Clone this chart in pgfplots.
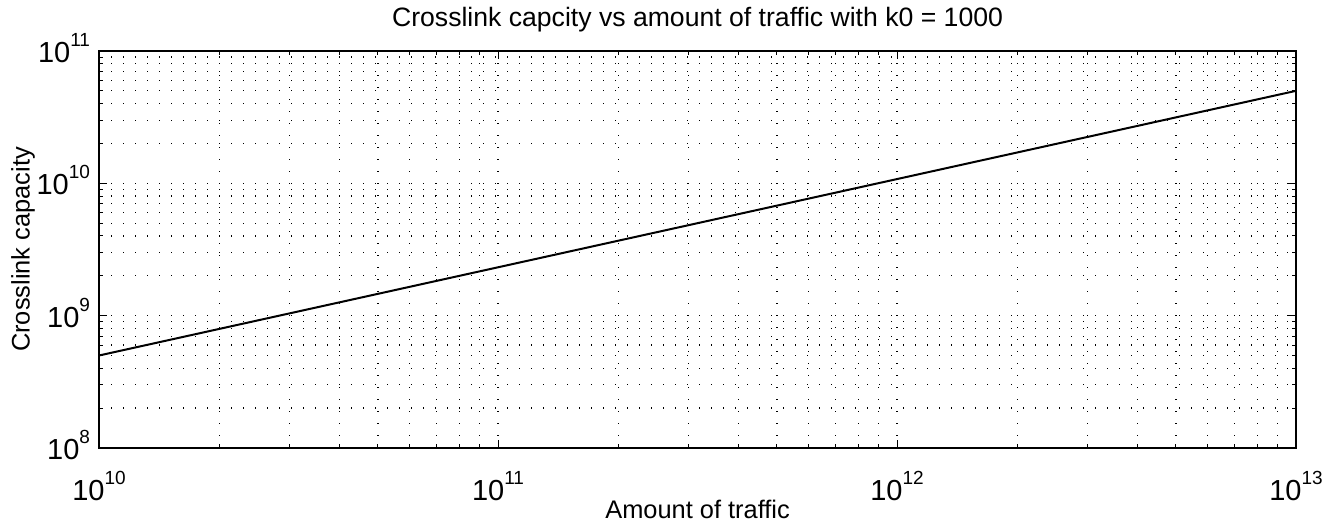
\documentclass[border=0pt]{standalone}
\usepackage{pgfplots}
\pgfplotsset{compat=1.18}
\usepackage{fontspec}
\setmainfont{Liberation Sans}

% power-of-ten tick label with a raised, smaller exponent
\newcommand{\pw}[1]{10\raisebox{0.55em}{\fontsize{9.5}{10}\selectfont #1}}

\begin{document}
\begin{tikzpicture}
\path[use as bounding box] (-49.5pt,-40.5pt) rectangle (619.5pt,224pt);
\begin{axis}[
  scale only axis,
  width=598.5pt, height=198.5pt,
  xmode=log, ymode=log,
  xmin=1e10, xmax=1e13,
  ymin=1e8, ymax=1e11,
  xtick={1e10,1e11,1e12,1e13},
  xticklabels={\pw{10},\pw{11},\pw{12},\pw{13}},
  ytick={1e8,1e9,1e10,1e11},
  yticklabels={\pw{8},\pw{9},\pw{10},\pw{11}},
  tick label style={font=\fontsize{14.5}{16}\selectfont},
  xticklabel style={yshift=-8pt},
  yticklabel style={xshift=-1pt, yshift=1.5pt},
  tick align=inside,
  major tick length=4pt,
  minor tick length=2.2pt,
  every tick/.style={black, line width=0.5pt},
  axis line style={line width=0.75pt},
  grid=both,
  major grid style={black, line width=0.65pt, dash pattern=on 0.65pt off 5.35pt},
  minor grid style={black, line width=0.65pt, dash pattern=on 0.65pt off 5.35pt},
  title={Crosslink capcity vs amount of traffic with k0 = 1000},
  title style={font=\fontsize{13.3}{15}\selectfont, at={(0.5,1)}, anchor=base, yshift=6pt},
  xlabel={Amount of traffic},
  xlabel style={font=\fontsize{12.7}{15}\selectfont, at={(0.5,0)}, anchor=base, yshift=-35.5pt},
  ylabel={Crosslink capacity},
  ylabel style={font=\fontsize{12.7}{15}\selectfont, at={(-0.058,0.5)}, anchor=base},
]
\addplot[black, line width=1pt] coordinates {
  (1e10, 5.0e8)
  (1e11, 2.32e9)
  (1e12, 1.077e10)
  (1e13, 5.0e10)
};
\end{axis}
\end{tikzpicture}
\end{document}
